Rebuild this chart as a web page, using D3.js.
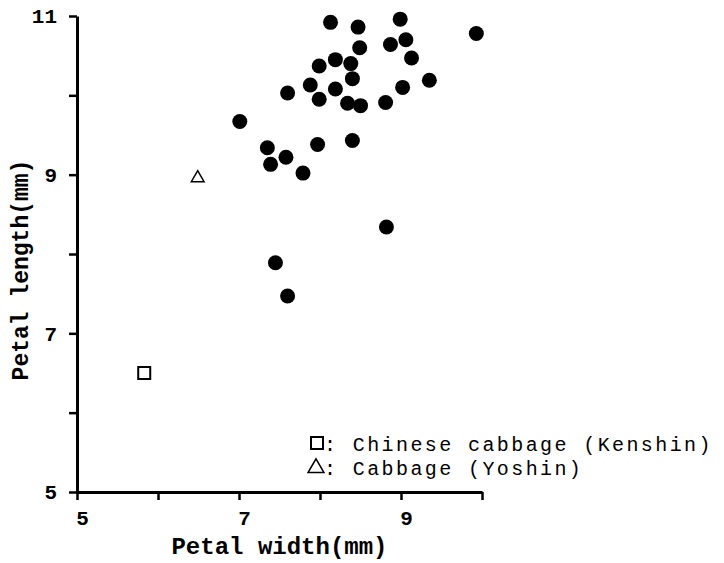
<!DOCTYPE html>
<html>
<head>
<meta charset="utf-8">
<script src="https://cdn.jsdelivr.net/npm/d3@7"></script>
<style>
  body { margin: 0; background: #fff; }
  text { font-family: "Liberation Mono", "DejaVu Sans Mono", monospace; fill: #000; }
</style>
</head>
<body>
<div id="chart"></div>
<script>
// F1 hybrids (filled circles): petal width, petal length (mm)
const hybridWidth  = [8.13, 8.47, 8.99, 9.93, 8.49, 8.87, 9.06, 9.13, 8.19, 7.99, 8.38,
                      8.40, 7.88, 7.60, 8.19, 7.99, 8.34, 8.50, 8.81, 9.02, 9.35, 7.35,
                      7.58, 7.39, 7.97, 8.40, 7.79, 7.01, 8.82, 7.45, 7.60];
const hybridLength = [10.92, 10.86, 10.96, 10.78, 10.60, 10.64, 10.70, 10.47, 10.45, 10.37, 10.40,
                      10.21, 10.13, 10.03, 10.08, 9.95, 9.90, 9.87, 9.91, 10.10, 10.19, 9.34,
                      9.22, 9.13, 9.38, 9.43, 9.02, 9.67, 8.34, 7.89, 7.47];
// parents
const kenshin = [5.83, 6.50];   // Chinese cabbage
const yoshin  = [6.49, 8.97];   // Cabbage

const xTicks = [5, 6, 7, 8, 9, 10];
const yTicks = [5, 6, 7, 8, 9, 10, 11];
const xLabelled = [5, 7, 9];
const yLabelled = [5, 7, 9, 11];
const legendLabels = ["Chinese cabbage (Kenshin)", "Cabbage (Yoshin)"];

const width = 724, height = 563;
const svg = d3.select("#chart").append("svg")
    .attr("width", width)
    .attr("height", height);

const x = d3.scaleLinear().domain([5, 10]).range([77, 482]);
const y = d3.scaleLinear().domain([5, 11]).range([492, 16]);

// axes
const xAxis = svg.append("g")
    .attr("transform", `translate(0,${y(5)})`)
    .call(d3.axisBottom(x).tickValues(xTicks).tickSize(8).tickSizeOuter(0)
        .tickFormat(d => xLabelled.includes(d) ? d : ""));
xAxis.select(".domain").attr("stroke-width", 3);
xAxis.selectAll(".tick line").attr("stroke-width", 2.5);
xAxis.selectAll(".tick text")
    .attr("y", 18)
    .style("font-size", "21px")
    .style("font-weight", "bold")
    .attr("dx", 5);

const yAxis = svg.append("g")
    .attr("transform", `translate(${x(5)},0)`)
    .call(d3.axisLeft(y).tickValues(yTicks).tickSize(8).tickSizeOuter(0)
        .tickFormat(d => yLabelled.includes(d) ? d : ""));
yAxis.select(".domain").attr("stroke-width", 3);
yAxis.selectAll(".tick line").attr("stroke-width", 2.5);
yAxis.selectAll(".tick text")
    .attr("x", -20)
    .style("font-size", "21px")
    .style("font-weight", "bold");

// axis titles
svg.append("text")
    .attr("x", (x(5) + x(10)) / 2)
    .attr("y", 554)
    .attr("text-anchor", "middle")
    .style("font-size", "24px")
    .style("font-weight", "bold")
    .text("Petal width(mm)");

svg.append("text")
    .attr("transform", `translate(28,${270}) rotate(-90)`)
    .attr("text-anchor", "middle")
    .style("font-size", "23px")
    .style("font-weight", "bold")
    .text("Petal length(mm)");

// hybrids
svg.append("g")
    .selectAll("circle")
    .data(hybridWidth.map((w, i) => [w, hybridLength[i]]))
    .join("circle")
    .attr("cx", d => x(d[0]))
    .attr("cy", d => y(d[1]))
    .attr("r", 7.5)
    .attr("fill", "#000");

// parents
const sq = 12;
svg.append("rect")
    .attr("x", x(kenshin[0]) - sq / 2)
    .attr("y", y(kenshin[1]) - sq / 2)
    .attr("width", sq).attr("height", sq)
    .attr("fill", "none").attr("stroke", "#000").attr("stroke-width", 2);

const tri = d3.symbol().type(d3.symbolTriangle).size(70);
svg.append("path")
    .attr("d", tri())
    .attr("transform", `translate(${x(yoshin[0])},${y(yoshin[1]) + 1})`)
    .attr("fill", "none").attr("stroke", "#000").attr("stroke-width", 1.5);

// legend
const legend = svg.append("g");
legend.append("rect")
    .attr("x", 311).attr("y", 437)
    .attr("width", 12).attr("height", 12)
    .attr("fill", "none").attr("stroke", "#000").attr("stroke-width", 2);
legend.append("path")
    .attr("d", d3.symbol().type(d3.symbolTriangle).size(110)())
    .attr("transform", "translate(316,468)")
    .attr("fill", "none").attr("stroke", "#000").attr("stroke-width", 1.5);

legend.selectAll("text.lab")
    .data(legendLabels)
    .join("text")
    .attr("class", "lab")
    .attr("x", 324)
    .attr("y", (d, i) => 451 + i * 24)
    .style("font-size", "20px")
    .style("letter-spacing", "2.4px")
    .text(d => ": " + d);
</script>
</body>
</html>
